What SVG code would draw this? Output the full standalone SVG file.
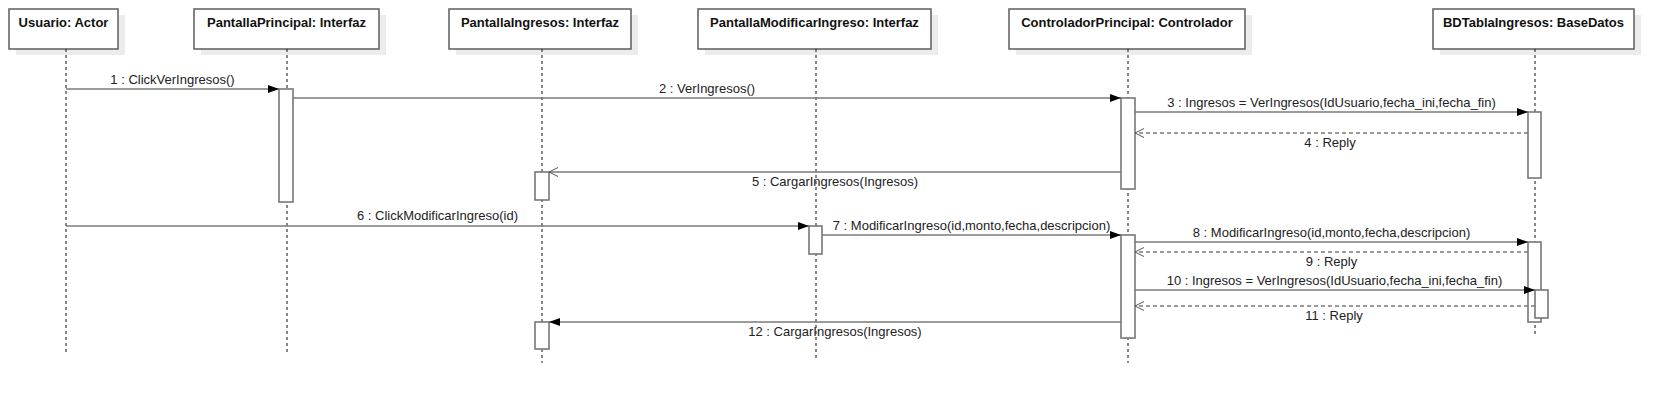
<svg xmlns="http://www.w3.org/2000/svg" width="1674" height="404" viewBox="0 0 1674 404">
<style>
.bg{fill:#fff}
.shadow{fill:#ececec}
.box{fill:#fff;stroke:#666;stroke-width:1.6}
.title{font-family:"Liberation Sans",Arial,sans-serif;font-size:13px;font-weight:bold;fill:#111;text-anchor:middle}
.life{stroke:#111;stroke-width:1;stroke-dasharray:3 3;fill:none}
.act{fill:#fff;stroke:#777;stroke-width:1.6}
.msg{stroke:#7a7a7a;stroke-width:1.6;fill:none}
.reply{stroke:#7a7a7a;stroke-width:1.6;fill:none;stroke-dasharray:4 3}
.lbl{font-family:"Liberation Sans",Arial,sans-serif;font-size:13px;fill:#222;text-anchor:middle}
</style>
<defs>
<marker id="filled" viewBox="0 0 11 8" refX="11" refY="4" markerWidth="11" markerHeight="8" markerUnits="userSpaceOnUse" orient="auto">
<path d="M0,0 L11,4 L0,8 Z" fill="#000"/>
</marker>
<marker id="open" viewBox="0 0 10 10" refX="9.5" refY="5" markerWidth="10" markerHeight="10" markerUnits="userSpaceOnUse" orient="auto">
<polyline points="0.5,0.5 9.5,5 0.5,9.5" fill="none" stroke="#555" stroke-width="1"/>
</marker>
</defs>
<rect class="bg" x="0" y="0" width="1674" height="404"/>

<g id="usuario">
<rect class="shadow" x="16" y="15" width="109" height="40"/>
<rect class="box" x="9" y="9" width="109" height="40"/>
<text class="title" x="63.5" y="27">Usuario: Actor</text>
<line class="life" x1="66" y1="49" x2="66" y2="352"/>
</g>

<g id="pantallaPrincipal">
<rect class="shadow" x="201" y="15" width="185" height="40"/>
<rect class="box" x="194" y="9" width="185" height="40"/>
<text class="title" x="286.5" y="27">PantallaPrincipal: Interfaz</text>
<line class="life" x1="287" y1="49" x2="287" y2="352"/>
<rect class="act" x="279" y="89" width="14" height="113"/>
</g>

<g id="pantallaIngresos">
<rect class="shadow" x="456" y="15" width="182" height="40"/>
<rect class="box" x="449" y="9" width="182" height="40"/>
<text class="title" x="540" y="27">PantallaIngresos: Interfaz</text>
<line class="life" x1="542" y1="49" x2="542" y2="363"/>
<rect class="act" x="535" y="172" width="14" height="28"/>
<rect class="act" x="535" y="322" width="14" height="27"/>
</g>

<g id="pantallaModificarIngreso">
<rect class="shadow" x="705" y="15" width="233" height="40"/>
<rect class="box" x="698" y="9" width="233" height="40"/>
<text class="title" x="814.5" y="27">PantallaModificarIngreso: Interfaz</text>
<line class="life" x1="816" y1="49" x2="816" y2="358"/>
<rect class="act" x="809" y="226" width="13" height="28"/>
</g>

<g id="controladorPrincipal">
<rect class="shadow" x="1016" y="15" width="236" height="40"/>
<rect class="box" x="1009" y="9" width="236" height="40"/>
<text class="title" x="1127" y="27">ControladorPrincipal: Controlador</text>
<line class="life" x1="1128" y1="49" x2="1128" y2="363"/>
<rect class="act" x="1121" y="98" width="14" height="91"/>
<rect class="act" x="1121" y="235" width="14" height="103"/>
</g>

<g id="bdTablaIngresos">
<rect class="shadow" x="1440" y="15" width="201" height="40"/>
<rect class="box" x="1433" y="9" width="201" height="40"/>
<text class="title" x="1533.5" y="27">BDTablaIngresos: BaseDatos</text>
<line class="life" x1="1535" y1="49" x2="1535" y2="335"/>
<rect class="act" x="1528" y="112" width="13" height="66"/>
<rect class="act" x="1528" y="242" width="13" height="80"/>
<rect class="act" x="1535" y="290" width="13" height="28"/>
</g>

<g id="connectors">
<line class="msg" x1="66" y1="89" x2="279" y2="89" marker-end="url(#filled)"/>
<text class="lbl" x="172.5" y="84">1 : ClickVerIngresos()</text>

<line class="msg" x1="293" y1="98" x2="1121" y2="98" marker-end="url(#filled)"/>
<text class="lbl" x="707" y="93">2 : VerIngresos()</text>

<line class="msg" x1="1135" y1="112" x2="1528" y2="112" marker-end="url(#filled)"/>
<text class="lbl" x="1331.5" y="107">3 : Ingresos = VerIngresos(IdUsuario,fecha_ini,fecha_fin)</text>

<line class="reply" x1="1528" y1="133" x2="1135" y2="133" marker-end="url(#open)"/>
<text class="lbl" x="1330" y="147">4 : Reply</text>

<line class="msg" x1="1121" y1="172" x2="549" y2="172" marker-end="url(#open)"/>
<text class="lbl" x="835" y="186">5 : CargarIngresos(Ingresos)</text>

<line class="msg" x1="66" y1="226" x2="809" y2="226" marker-end="url(#filled)"/>
<text class="lbl" x="437.5" y="220">6 : ClickModificarIngreso(id)</text>

<line class="msg" x1="822" y1="235" x2="1121" y2="235" marker-end="url(#filled)"/>
<text class="lbl" x="971.5" y="230">7 : ModificarIngreso(id,monto,fecha,descripcion)</text>

<line class="msg" x1="1135" y1="242" x2="1528" y2="242" marker-end="url(#filled)"/>
<text class="lbl" x="1331.5" y="237">8 : ModificarIngreso(id,monto,fecha,descripcion)</text>

<line class="reply" x1="1528" y1="252" x2="1135" y2="252" marker-end="url(#open)"/>
<text class="lbl" x="1331.5" y="266">9 : Reply</text>

<line class="msg" x1="1135" y1="290" x2="1535" y2="290" marker-end="url(#filled)"/>
<text class="lbl" x="1334.5" y="285">10 : Ingresos = VerIngresos(IdUsuario,fecha_ini,fecha_fin)</text>

<line class="reply" x1="1535" y1="306" x2="1135" y2="306" marker-end="url(#open)"/>
<text class="lbl" x="1334" y="320">11 : Reply</text>

<line class="msg" x1="1121" y1="322" x2="549" y2="322" marker-end="url(#filled)"/>
<text class="lbl" x="835" y="336">12 : CargarIngresos(Ingresos)</text>
</g>
</svg>
